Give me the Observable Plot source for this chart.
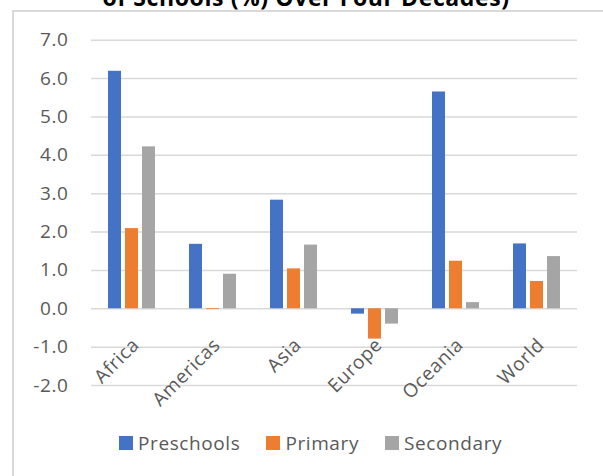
<!DOCTYPE html>
<html>
<head>
<meta charset="utf-8">
<script src="https://cdn.jsdelivr.net/npm/d3@7"></script>
<script src="https://cdn.jsdelivr.net/npm/@observablehq/plot@0.6"></script>
<style>
  html, body { margin: 0; padding: 0; background: #fff; width: 603px; height: 476px; overflow: hidden; position: relative; }
  #title { position: absolute; left: 0; width: 612px; top: -14.4px; text-align: center; font-family: "Open Sans", sans-serif; font-weight: bold; font-size: 23px; line-height: 23px; letter-spacing: 0.6px; color: #000; white-space: nowrap; }
  #box { position: absolute; left: 12px; top: 10px; width: 640px; height: 520px; border: 2px solid #d9d9d9; box-sizing: border-box; }
  #chart { position: absolute; left: 0; top: 0; }
  #legend { position: absolute; left: 119px; top: 430px; display: flex; align-items: center; font-family: "Open Sans", sans-serif; font-size: 19px; letter-spacing: 0.6px; color: #595959; white-space: nowrap; }
  .item { display: flex; align-items: center; margin-right: 26px; }
  .sw { width: 14px; height: 14px; margin-right: 5px; }
</style>
</head>
<body>
<div id="title">of Schools (%) Over Four Decades)</div>
<div id="box"></div>
<div id="chart"></div>
<div id="legend"></div>
<script>
const categories = ["Africa", "Americas", "Asia", "Europe", "Oceania", "World"];
const series = ["Preschools", "Primary", "Secondary"];
const preschools = [6.19, 1.68, 2.83, -0.14, 5.65, 1.69];
const primary = [2.09, -0.02, 1.04, -0.79, 1.24, 0.71];
const secondary = [4.22, 0.90, 1.66, -0.40, 0.16, 1.36];
const colors = ["#4472C4", "#ED7D31", "#A5A5A5"];
const yTicks = [-2, -1, 0, 1, 2, 3, 4, 5, 6, 7];

const seriesValues = [preschools, primary, secondary];
const data = [];
categories.forEach((c, i) => {
  series.forEach((s, j) => data.push({category: c, series: s, value: seriesValues[j][i]}));
});

const plot = Plot.plot({
  width: 603,
  height: 476,
  marginLeft: 90,
  marginRight: 25,
  marginTop: 39.7,
  marginBottom: 91,
  style: {background: "transparent", fontFamily: "Open Sans, sans-serif", fontSize: "19px", color: "#595959", overflow: "visible", letterSpacing: "0.6px"},
  fx: {domain: categories, padding: 0, axis: null},
  x: {domain: series, paddingInner: 0.222, paddingOuter: 0.87, axis: null},
  y: {domain: [-2, 7], axis: null},
  color: {domain: series, range: colors},
  marks: [
    Plot.gridY(yTicks, {stroke: "#d9d9d9", strokeOpacity: 1, strokeWidth: 1.5}),
    Plot.barY(data, {fx: "category", x: "series", y: "value", fill: "series"}),
    Plot.axisY(yTicks, {tickSize: 0, tickPadding: 23, tickFormat: d => d.toFixed(1), fill: "#595959", label: null}),
    Plot.text(categories, {fx: d => d, text: d => d, y: () => 0, rotate: -45, textAnchor: "end", dx: 4, dy: 33, fill: "#595959"})
  ]
});
document.getElementById("chart").appendChild(plot);

const legend = d3.select("#legend");
series.forEach((s, i) => {
  const item = legend.append("div").attr("class", "item");
  item.append("div").attr("class", "sw").style("background", colors[i]);
  item.append("span").text(s);
});
</script>
</body>
</html>
